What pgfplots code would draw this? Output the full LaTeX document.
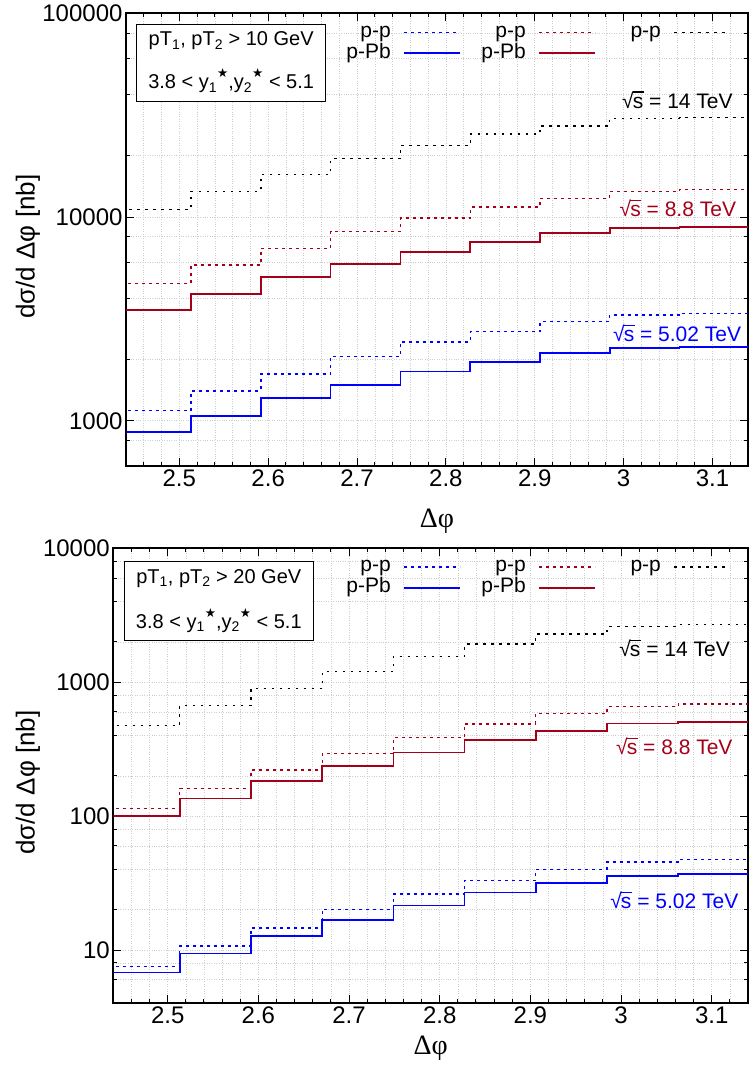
\documentclass[border=0pt]{standalone}
\usepackage{fontspec}
\setmainfont{Liberation Sans}
\newfontfamily\seriffont{Liberation Serif}
\newfontfamily\dejavu{DejaVu Sans}
\usepackage{pgfplots}
\pgfplotsset{compat=1.18}
\usepackage{pgfplotstable}
\definecolor{cblue}{RGB}{0,0,255}
\definecolor{cred}{RGB}{165,0,25}
\definecolor{cgrid}{RGB}{205,205,205}
\newcommand\sq{√\kern-0.04em\rlap{\rule[0.74em]{0.52em}{0.06em}}s}
\newcommand\st{\raisebox{0.55em}{\dejavu\fontsize{12.5bp}{13bp}\selectfont ★}}

% columns: x (bin left edge), pp 5.02, pPb 5.02, pp 8.8, pPb 8.8, pp 14
\pgfplotstableread{
x        ppB    pPbB   ppR    pPbR   ppK
2.43473  1119   878    4711   3506   10866
2.51327  1401   1058   5813   4197   13393
2.59181  1696   1290   7013   5079   16212
2.67035  2069   1498   8515   5898   19336
2.74889  2439   1742   9888   6751   22450
2.82743  2748   1940   11188  7551   25515
2.90597  3064   2146   12337  8355   28022
2.98451  3304   2270   13345  8808   30537
3.06305  3364   2307   13603  8938   30744
3.14159  3364   2307   13603  8938   30744
}\tabten
\pgfplotstableread{
x        ppB    pPbB   ppR    pPbR   ppK
2.43473  7.50   6.81   114.6  100.3  474.8
2.51327  10.71  9.45   161.6  135.1  666
2.59181  14.60  12.79  221.5  182.3  897
2.67035  20.01  16.76  295.2  237.2  1196
2.74889  26.22  21.44  386.1  298.3  1556
2.82743  32.96  26.82  486.3  369.3  1927
2.90597  39.82  31.51  580.5  433.4  2288
2.98451  45.47  35.73  655    491.2  2608
3.06305  47.31  36.80  686    505.8  2685
3.14159  47.31  36.80  686    505.8  2685
}\tabtwenty

\tikzset{
  sppB/.style={cblue, line width=1.3bp, dash pattern=on 3bp off 4bp},
  spbB/.style={cblue, line width=1.6bp},
  sppR/.style={cred, line width=1.3bp, dash pattern=on 3bp off 4bp},
  spbR/.style={cred, line width=1.6bp},
  sppK/.style={black, line width=1.3bp, dash pattern=on 2.5bp off 5.5bp},
  infobox/.style={draw=black, line width=0.8bp, fill=white, align=center,
    minimum width=189bp, inner xsep=3bp, inner ysep=4bp,
    font=\fontsize{20bp}{#1}\selectfont},
}

\pgfplotsset{
  every axis/.append style={
    scale only axis, xmin=2.44, xmax=3.14,
    xtick={2.5,2.6,2.7,2.8,2.9,3.0,3.1},
    xticklabels={2.5,2.6,2.7,2.8,2.9,3,3.1},
    minor xtick={2.44,2.46,2.48,2.52,2.54,2.56,2.58,2.62,2.64,2.66,2.68,2.72,2.74,2.76,2.78,2.82,2.84,2.86,2.88,2.92,2.94,2.96,2.98,3.02,3.04,3.06,3.08,3.12,3.14},
    tick align=inside,
    major tick length=8bp, minor tick length=4bp,
    every tick/.style={black, line width=1bp},
    axis line style={line width=2bp},
    grid=both,
    major grid style={cgrid, dotted, line width=0.6bp},
    minor grid style={cgrid, dotted, line width=0.6bp},
    tick label style={font=\fontsize{24bp}{28bp}\selectfont},
    legend plot pos=right, legend columns=3,
    legend style={draw=none, fill=none, inner sep=0pt, anchor=north west,
      font=\fontsize{21bp}{24bp}\selectfont,
      nodes={inner sep=0pt, text height=15bp, text depth=5bp},
      /tikz/row sep=1bp,
      /tikz/every odd column/.append style={column sep=12.5bp},
      /tikz/every even column/.append style={column sep=21bp}},
  },
  legend image code/.code={\draw[#1] (0bp,0bp) -- (56bp,0bp);},
}

\begin{document}
\begin{tikzpicture}
% ---------- top panel ----------
\begin{axis}[
  ymode=log,
  at={(126bp,611bp)}, anchor=south west,
  width=622bp, height=452.7bp,
  ymin=600, ymax=100000,
  ytick={1000,10000,100000}, yticklabels={1000,10000,100000},
  minor ytick={800,2000,4000,6000,8000,20000,40000,60000,80000},
  ylabel={dσ/d Δφ [nb]}, xlabel={Δφ},
  every axis y label/.style={at={(axis description cs:-0.1576,0.4844)}, rotate=90, anchor=center, font=\fontsize{26bp}{30bp}\selectfont},
  every axis x label/.style={at={(axis description cs:0.5,-0.1215)}, anchor=center, font=\seriffont\fontsize{28bp}{32bp}\selectfont},
  legend style={at={(axis description cs:0.3545,0.9808)}},
]
\addplot[const plot, sppB, forget plot] table[x=x, y=ppB] {\tabten};
\addplot[const plot, sppR, forget plot] table[x=x, y=ppR] {\tabten};
\addplot[const plot, sppK, forget plot] table[x=x, y=ppK] {\tabten};
\addplot[const plot, spbB, forget plot] table[x=x, y=pPbB] {\tabten};
\addplot[const plot, spbR, forget plot] table[x=x, y=pPbR] {\tabten};
\addlegendimage{sppB}\addlegendentry{\makebox[44bp][r]{p-p}}
\addlegendimage{sppR}\addlegendentry{\makebox[44bp][r]{p-p}}
\addlegendimage{sppK}\addlegendentry{\makebox[44bp][r]{p-p}}
\addlegendimage{spbB}\addlegendentry{\makebox[44bp][r]{p-Pb}}
\addlegendimage{spbR}\addlegendentry{\makebox[44bp][r]{p-Pb}}
\node[infobox=43bp, minimum height=77bp] at (axis description cs:0.1691,0.8913)
  {pT\textsubscript{1}, pT\textsubscript{2} > 10 GeV\\3.8 < y\textsubscript{1}\st,y\textsubscript{2}\st{} < 5.1};
\node[anchor=east, text=black, font=\fontsize{21bp}{24bp}\selectfont] at (axis description cs:0.981,0.8085) {\sq{} = 14 TeV};
\node[anchor=east, text=cred, font=\fontsize{21bp}{24bp}\selectfont] at (axis description cs:0.9864,0.5693) {\sq{} = 8.8 TeV};
\node[anchor=east, text=cblue, font=\fontsize{21bp}{24bp}\selectfont] at (axis description cs:0.9946,0.2931) {\sq{} = 5.02 TeV};
\end{axis}
% ---------- bottom panel ----------
\begin{axis}[
  ymode=log,
  at={(113.3bp,73.7bp)}, anchor=south west,
  width=634.7bp, height=455bp,
  ymin=4, ymax=10000,
  ytick={10,100,1000,10000}, yticklabels={10,100,1000,10000},
  minor ytick={4,6,8,20,40,60,80,200,400,600,800,2000,4000,6000,8000},
  ylabel={dσ/d Δφ [nb]}, xlabel={Δφ},
  every axis y label/.style={at={(axis description cs:-0.1344,0.485)}, rotate=90, anchor=center, font=\fontsize{26bp}{30bp}\selectfont},
  every axis x label/.style={at={(axis description cs:0.5,-0.098)}, anchor=center, font=\seriffont\fontsize{28bp}{32bp}\selectfont},
  legend style={at={(axis description cs:0.3674,0.9815)}},
]
\addplot[const plot, sppB, forget plot] table[x=x, y=ppB] {\tabtwenty};
\addplot[const plot, sppR, forget plot] table[x=x, y=ppR] {\tabtwenty};
\addplot[const plot, sppK, forget plot] table[x=x, y=ppK] {\tabtwenty};
\addplot[const plot, spbB, forget plot] table[x=x, y=pPbB] {\tabtwenty};
\addplot[const plot, spbR, forget plot] table[x=x, y=pPbR] {\tabtwenty};
\addlegendimage{sppB}\addlegendentry{\makebox[44bp][r]{p-p}}
\addlegendimage{sppR}\addlegendentry{\makebox[44bp][r]{p-p}}
\addlegendimage{sppK}\addlegendentry{\makebox[44bp][r]{p-p}}
\addlegendimage{spbB}\addlegendentry{\makebox[44bp][r]{p-Pb}}
\addlegendimage{spbR}\addlegendentry{\makebox[44bp][r]{p-Pb}}
\node[infobox=45bp, minimum height=79bp] at (axis description cs:0.1662,0.8837)
  {pT\textsubscript{1}, pT\textsubscript{2} > 20 GeV\\3.8 < y\textsubscript{1}\st,y\textsubscript{2}\st{} < 5.1};
\node[anchor=east, text=black, font=\fontsize{21bp}{24bp}\selectfont] at (axis description cs:0.9768,0.7802) {\sq{} = 14 TeV};
\node[anchor=east, text=cred, font=\fontsize{21bp}{24bp}\selectfont] at (axis description cs:0.9811,0.564) {\sq{} = 8.8 TeV};
\node[anchor=east, text=cblue, font=\fontsize{21bp}{24bp}\selectfont] at (axis description cs:0.9903,0.2255) {\sq{} = 5.02 TeV};
\end{axis}
\pgfresetboundingbox
\path[use as bounding box] (0bp,0bp) rectangle (749bp,1077bp);
\end{tikzpicture}
\end{document}
